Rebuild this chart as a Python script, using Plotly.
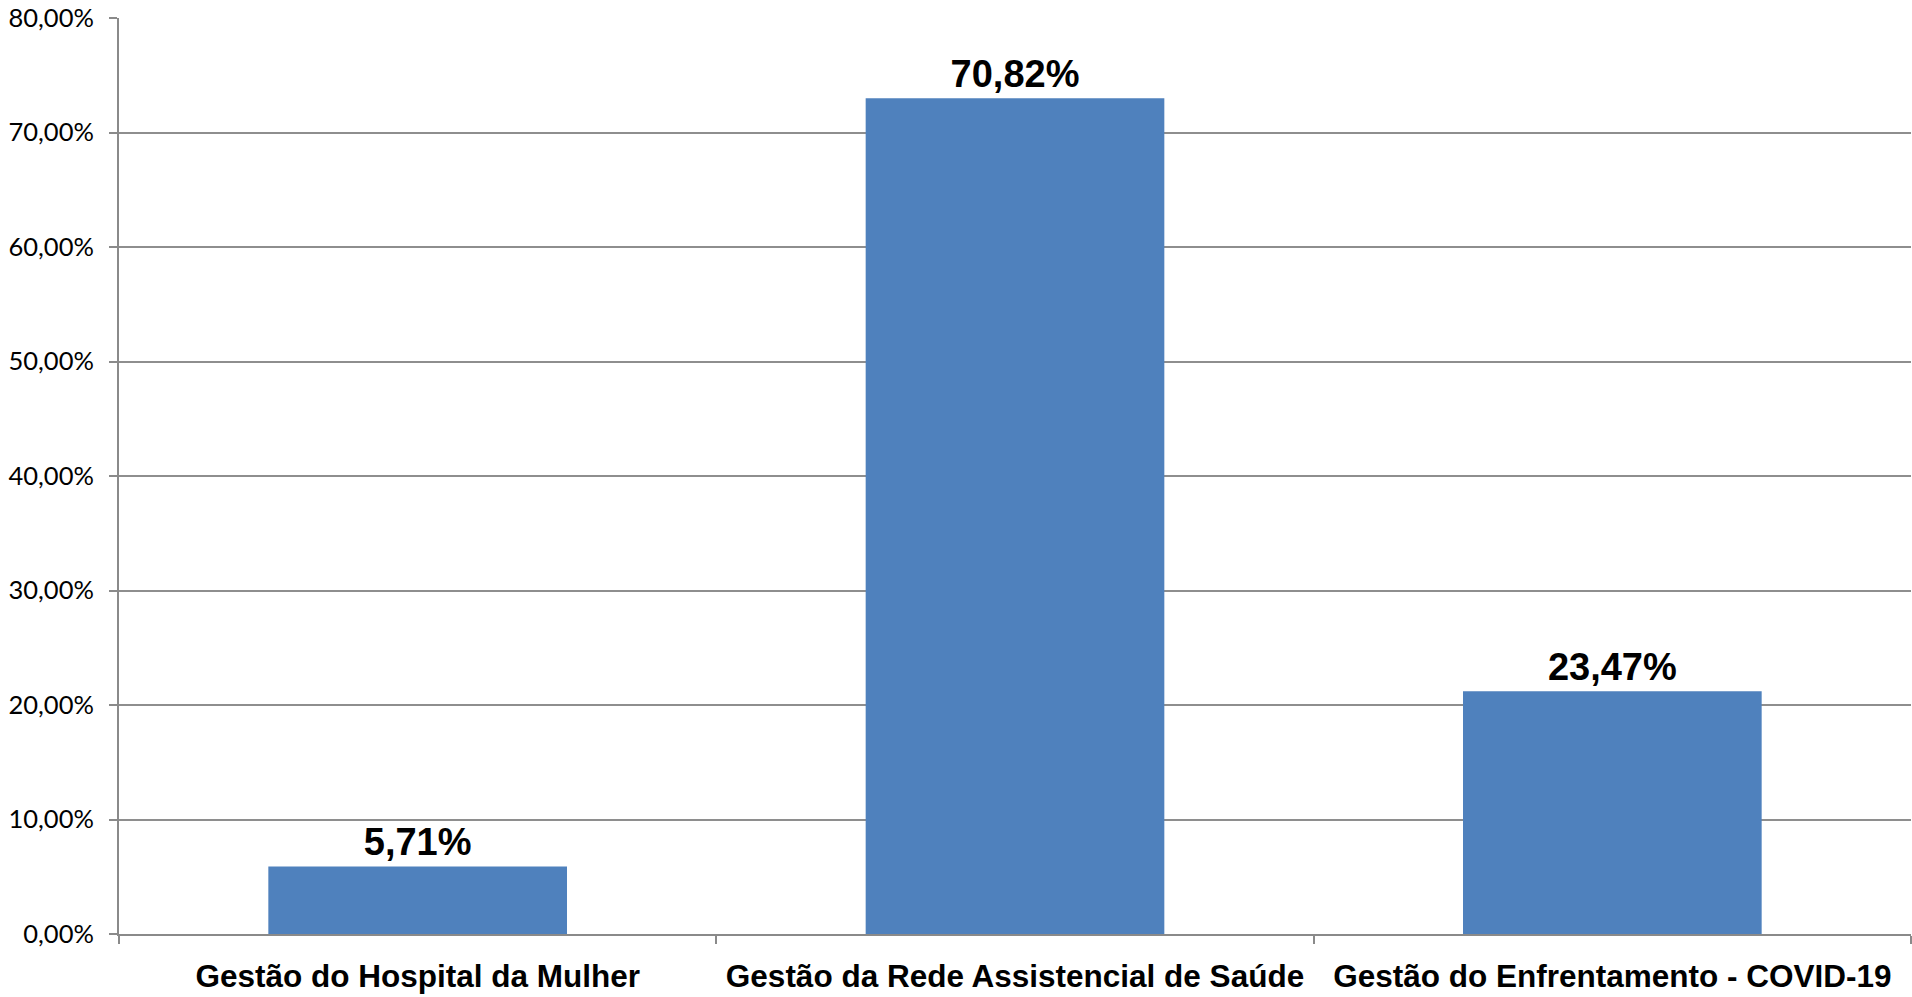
import plotly.graph_objects as go

categories = [
    "Gestão do Hospital da Mulher",
    "Gestão da Rede Assistencial de Saúde",
    "Gestão do Enfrentamento - COVID-19",
]
bar_values = [5.9, 73.0, 21.2]
bar_labels = ["5,71%", "70,82%", "23,47%"]

fig = go.Figure()
fig.add_trace(go.Bar(
    x=categories,
    y=bar_values,
    text=bar_labels,
    textposition="outside",
    constraintext="none",
    cliponaxis=False,
    textfont=dict(family="Liberation Sans, Arial", size=38, color="#000000", weight="bold"),
    marker=dict(color="#4F81BD", line=dict(width=0)),
    hoverinfo="x+y",
))

fig.update_layout(
    width=1912,
    height=997,
    margin=dict(l=119, r=1, t=18, b=63, autoexpand=False),
    paper_bgcolor="#FFFFFF",
    plot_bgcolor="#FFFFFF",
    separators=",.",
    bargap=0.5,
    showlegend=False,
)

fig.update_xaxes(
    type="category",
    showline=True,
    linecolor="#8A8A8A",
    linewidth=2,
    ticks="outside",
    tickson="boundaries",
    ticklen=8,
    tickwidth=1.5,
    tickcolor="#8A8A8A",
    tickangle=0,
    showgrid=False,
    tickfont=dict(family="Liberation Sans, Arial", size=31.5, color="#000000", weight="bold"),
    ticklabelstandoff=13,
)

fig.update_yaxes(
    range=[0, 80],
    dtick=10,
    tick0=0,
    tickformat=".2f",
    ticksuffix="%",
    showline=True,
    linecolor="#8A8A8A",
    linewidth=2,
    ticks="outside",
    ticklen=8,
    tickwidth=1.5,
    tickcolor="#8A8A8A",
    showgrid=True,
    gridcolor="#8E8E8E",
    gridwidth=1.5,
    zeroline=False,
    tickfont=dict(family="Lato, Carlito, Calibri, sans-serif", size=25.5, color="#000000"),
    ticklabelstandoff=10,
)

fig.write_html(
    "out.html",
    config={"displayModeBar": False},
    post_script="document.body.style.margin='0';document.body.style.overflow='hidden';",
)
